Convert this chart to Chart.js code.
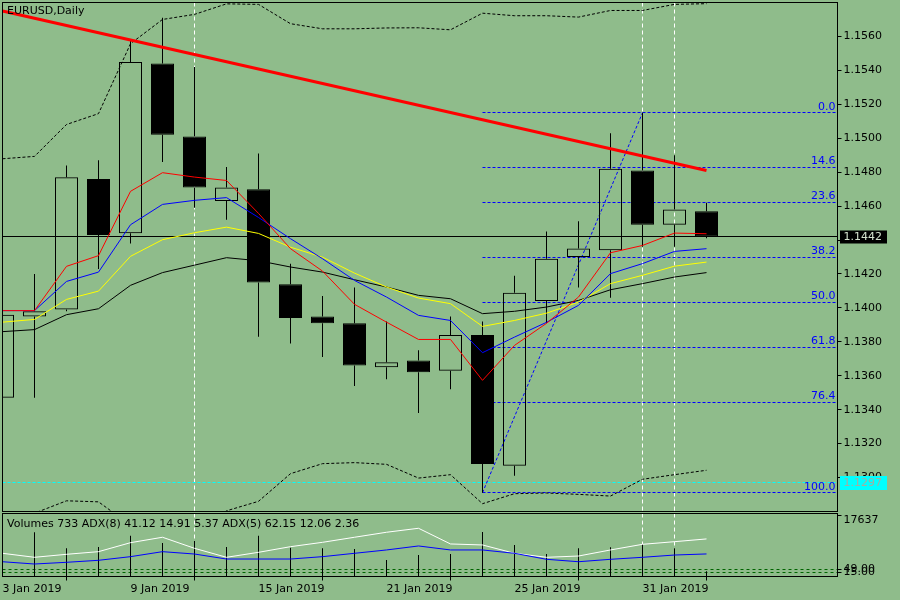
<!DOCTYPE html>
<html>
<head>
<meta charset="utf-8">
<script src="https://cdn.jsdelivr.net/npm/chart.js@4.4.0/dist/chart.umd.min.js"></script>
<style>
  html, body { margin: 0; padding: 0; background: #8FBC8B; }
  canvas { display: block; }
</style>
</head>
<body>
<canvas id="price" width="900" height="512"></canvas>
<canvas id="volume" width="900" height="88"></canvas>
<script>
// EURUSD daily bars
var dates = ["3 Jan 2019", "4 Jan 2019", "7 Jan 2019", "8 Jan 2019", "9 Jan 2019",
  "10 Jan 2019", "11 Jan 2019", "14 Jan 2019", "15 Jan 2019", "16 Jan 2019",
  "17 Jan 2019", "18 Jan 2019", "21 Jan 2019", "22 Jan 2019", "23 Jan 2019",
  "24 Jan 2019", "25 Jan 2019", "28 Jan 2019", "29 Jan 2019", "30 Jan 2019",
  "31 Jan 2019", "1 Feb 2019", "4 Feb 2019"];

var open  = [1.1347, 1.1395, 1.1399, 1.1476, 1.1444, 1.1544, 1.1501, 1.1463, 1.1470, 1.1414, 1.1395, 1.1391,
             1.1365, 1.1369, 1.1363, 1.1384, 1.1307, 1.1404, 1.1430, 1.1434, 1.1481, 1.1449, 1.1457];
var high  = [1.1400, 1.1420, 1.1484, 1.1487, 1.1558, 1.1571, 1.1542, 1.1483, 1.1491, 1.1426, 1.1407, 1.1412,
             1.1392, 1.1375, 1.1395, 1.1392, 1.1419, 1.1445, 1.1451, 1.1503, 1.1515, 1.1490, 1.1462];
var low   = [1.1333, 1.1347, 1.1398, 1.1423, 1.1438, 1.1486, 1.1459, 1.1452, 1.1383, 1.1379, 1.1371, 1.1354,
             1.1358, 1.1338, 1.1352, 1.1291, 1.1301, 1.1391, 1.1412, 1.1406, 1.1436, 1.1436, 1.1441];
var close = [1.1396, 1.1398, 1.1477, 1.1443, 1.1545, 1.1502, 1.1471, 1.1471, 1.1415, 1.1394, 1.1391, 1.1366,
             1.1368, 1.1362, 1.1384, 1.1308, 1.1409, 1.1429, 1.1435, 1.1482, 1.1449, 1.1458, 1.1442];

// moving averages
var maRed    = [1.13984, 1.13984, 1.14245, 1.14308, 1.14687, 1.14797, 1.14771, 1.14751, 1.14557, 1.14349, 1.14217, 1.14021,
                1.13916, 1.13814, 1.13814, 1.13573, 1.13779, 1.13909, 1.14064, 1.14325, 1.14368, 1.14441, 1.14437];
var maBlue   = [1.13984, 1.13984, 1.14156, 1.14211, 1.14490, 1.14610, 1.14634, 1.14650, 1.14533, 1.14408, 1.14290, 1.14162,
                1.14064, 1.13956, 1.13926, 1.13736, 1.13828, 1.13915, 1.14015, 1.14202, 1.14261, 1.14333, 1.14349];
var maYellow = [1.13916, 1.13932, 1.14050, 1.14099, 1.14304, 1.14402, 1.14443, 1.14476, 1.14439, 1.14358, 1.14299, 1.14205,
                1.14123, 1.14058, 1.14025, 1.13891, 1.13926, 1.13969, 1.14034, 1.14143, 1.14192, 1.14246, 1.14270];
var maBlack  = [1.13860, 1.13872, 1.13960, 1.13995, 1.14133, 1.14208, 1.14252, 1.14296, 1.14278, 1.14241, 1.14211, 1.14166,
                1.14123, 1.14074, 1.14054, 1.13966, 1.13980, 1.14005, 1.14044, 1.14107, 1.14143, 1.14182, 1.14208];

// bollinger bands
var bandUpper = [1.14879, 1.14893, 1.15081, 1.15145, 1.15557, 1.15700, 1.15730, 1.15792, 1.15789, 1.15675, 1.15645, 1.15645,
                 1.15650, 1.15651, 1.15639, 1.15737, 1.15722, 1.15722, 1.15714, 1.15753, 1.15753, 1.15789, 1.15793];
var bandLower = [1.1278, 1.1279, 1.12863, 1.12857, 1.1272, 1.1266, 1.1268, 1.12804, 1.12860, 1.13023, 1.13082, 1.13088,
                 1.13078, 1.12997, 1.13017, 1.12846, 1.12905, 1.12909, 1.12901, 1.12891, 1.12990, 1.13017, 1.13043];

// objects
var trendX = [0, 22];
var trendY = [1.1575, 1.1481];
var fibPct = ["0.0", "14.6", "23.6", "38.2", "50.0", "61.8", "76.4", "100.0"];
var fibLevels = [1.15150, 1.14828, 1.14622, 1.14298, 1.14033, 1.13767, 1.13443, 1.12911];
var fibStart = 15;
var fibLineX = [15, 20];
var fibLineY = [1.12911, 1.15150];
var vLines = [6, 20, 21];
var cyanLevel = 1.1297;
var priceTicks = [1.1300, 1.1320, 1.1340, 1.1360, 1.1380, 1.1400, 1.1420, 1.1440, 1.1460, 1.1480, 1.1500, 1.1520, 1.1540, 1.1560];

// lower window
var volumes = [9000, 12546, 7700, 8093, 11516, 9305, 9911, 8093, 11516, 7881, 7700, 7488,
               4156, 5670, 5973, 12637, 8699, 5973, 7700, 8003, 8911, 7700, 733];
var adx5 = [42.0, 36.4, 40.6, 44.3, 56.9, 64.5, 49.0, 36.4, 43.4, 51.3, 57.4, 64.5,
            71.5, 77.1, 55.1, 53.7, 42.0, 36.4, 38.2, 46.7, 54.6, 58.3, 62.15];
var adx8 = [30.2, 27.0, 29.4, 32.2, 37.3, 44.3, 41.0, 34.0, 34.0, 34.0, 37.3, 42.0,
            46.7, 52.3, 46.7, 46.7, 42.0, 33.6, 30.2, 33.6, 36.4, 39.6, 41.12];
var volTicks = [17637];
var adxLevels = [19.6, 15.8];
var adxLevelLabels = ["49.00", "15.00"];
var dateTicks = [0, 4, 8, 12, 16, 20];
var lowerText = "Volumes 733 ADX(8) 41.12 14.91 5.37 ADX(5) 62.15 12.06 2.36";

var bg = "#8FBC8B";
var font = { family: "DejaVu Sans", size: 11 };
var fontStr = '11px "DejaVu Sans"';
var xMin = 0, xMax = 26.09375;

function pts(arr) {
  return arr.map(function (v, i) { return { x: i, y: v }; });
}
function lineSet(data, color, order, dash, width) {
  return {
    type: 'line', data: data, borderColor: color, borderWidth: width || 1,
    borderDash: dash || [], pointRadius: 0, tension: 0, order: order
  };
}
// no extra room for the end labels, the frame is fixed
function fixV(s) { s.width = 62.5; s.paddingTop = 0; s.paddingBottom = 0; }
function fixH(s) { s.height = 23.5; s.paddingLeft = 0; s.paddingRight = 0; }

var bodies = open.map(function (o, i) {
  return { x: i, y: [Math.min(o, close[i]), Math.max(o, close[i])] };
});
var upperWicks = open.map(function (o, i) {
  return { x: i, y: [Math.max(o, close[i]), high[i]] };
});
var lowerWicks = open.map(function (o, i) {
  return { x: i, y: [low[i], Math.min(o, close[i])] };
});
var trendPts = trendX.map(function (v, i) { return { x: v, y: trendY[i] }; });

var mainPlugin = {
  id: 'mainPlugin',
  beforeDatasetsDraw: function (chart) {
    var ctx = chart.ctx, a = chart.chartArea, x = chart.scales.x, y = chart.scales.y;
    ctx.save();
    ctx.beginPath();
    ctx.rect(a.left, a.top, a.right - a.left, a.bottom - a.top);
    ctx.clip();
    ctx.lineWidth = 1;

    ctx.strokeStyle = '#FFFFFF';
    ctx.setLineDash([4, 3]);
    vLines.forEach(function (i) {
      var px = x.getPixelForValue(i);
      ctx.beginPath(); ctx.moveTo(px, a.top); ctx.lineTo(px, a.bottom); ctx.stroke();
    });

    ctx.strokeStyle = '#00FFFF';
    ctx.setLineDash([3, 2]);
    var cy = Math.round(y.getPixelForValue(cyanLevel) - 0.5) + 0.5;
    ctx.beginPath(); ctx.moveTo(a.left, cy); ctx.lineTo(a.right, cy); ctx.stroke();

    ctx.strokeStyle = '#0000FF';
    var fx = x.getPixelForValue(fibStart);
    fibLevels.forEach(function (lv) {
      var py = Math.round(y.getPixelForValue(lv) - 0.5) + 0.5;
      ctx.beginPath(); ctx.moveTo(fx, py); ctx.lineTo(a.right, py); ctx.stroke();
    });
    ctx.beginPath();
    ctx.moveTo(x.getPixelForValue(fibLineX[0]), y.getPixelForValue(fibLineY[0]));
    ctx.lineTo(x.getPixelForValue(fibLineX[1]), y.getPixelForValue(fibLineY[1]));
    ctx.stroke();

    ctx.setLineDash([]);
    ctx.strokeStyle = '#000000';
    var by = Math.round(y.getPixelForValue(close[close.length - 1]) - 0.5) + 0.5;
    ctx.beginPath(); ctx.moveTo(a.left, by); ctx.lineTo(a.right, by); ctx.stroke();
    ctx.restore();
  },
  afterDraw: function (chart) {
    var ctx = chart.ctx, a = chart.chartArea, y = chart.scales.y;
    ctx.save();
    ctx.lineWidth = 1;
    ctx.strokeStyle = '#000000';
    ctx.strokeRect(a.left, a.top, a.right - a.left, a.bottom - a.top);

    ctx.font = fontStr;
    ctx.fillStyle = '#000000';
    ctx.textBaseline = 'middle';
    ctx.textAlign = 'left';
    ctx.fillText('EURUSD,Daily', 7, 11.5);

    ctx.fillStyle = '#0000FF';
    ctx.textAlign = 'right';
    ctx.textBaseline = 'alphabetic';
    fibLevels.forEach(function (lv, i) {
      ctx.fillText(fibPct[i], a.right - 2, y.getPixelForValue(lv) - 3);
    });

    ctx.textAlign = 'left';
    ctx.textBaseline = 'middle';
    var last = close[close.length - 1];
    var py = y.getPixelForValue(last);
    ctx.fillStyle = '#000000';
    ctx.fillRect(840, Math.round(py) - 6.5, 47, 13);
    ctx.fillStyle = '#D4E2CE';
    ctx.fillText(last.toFixed(4), 843.5, py + 0.5);

    var cy = y.getPixelForValue(cyanLevel);
    ctx.fillStyle = '#00FFFF';
    ctx.fillRect(840, Math.round(cy) - 7, 47, 14);
    ctx.fillStyle = '#A4AEA0';
    ctx.fillText(cyanLevel.toFixed(4), 843.5, cy + 0.5);
    ctx.restore();
  }
};

new Chart(document.getElementById('price'), {
  type: 'bar',
  data: {
    datasets: [
      lineSet(trendPts, '#FF0000', 0, [], 3),
      lineSet(pts(maRed), '#FF0000', 1),
      lineSet(pts(maBlue), '#0000FF', 2),
      lineSet(pts(maYellow), '#FFFF00', 3),
      lineSet(pts(maBlack), '#000000', 4),
      lineSet(pts(bandUpper), '#000000', 1, [3, 2]),
      lineSet(pts(bandLower), '#000000', 1, [3, 2]),
      {
        type: 'bar', data: bodies, grouped: false, barThickness: 23, order: 6,
        backgroundColor: close.map(function (c, i) { return c < open[i] ? '#000000' : 'rgba(0,0,0,0)'; }),
        borderColor: '#000000', borderWidth: 1, borderSkipped: false, inflateAmount: 0
      },
      {
        type: 'bar', data: upperWicks, grouped: false, barThickness: 1, order: 7,
        backgroundColor: '#000000', borderWidth: 0, inflateAmount: 0
      },
      {
        type: 'bar', data: lowerWicks, grouped: false, barThickness: 1, order: 7,
        backgroundColor: '#000000', borderWidth: 0, inflateAmount: 0
      }
    ]
  },
  options: {
    responsive: false,
    animation: false,
    devicePixelRatio: 1,
    layout: { padding: { left: 2.5, top: 2.5, right: 0, bottom: 0.5 } },
    plugins: { legend: { display: false }, tooltip: { enabled: false } },
    scales: {
      x: { type: 'linear', display: false, min: xMin, max: xMax, offset: false },
      y: {
        type: 'linear', position: 'right', min: 1.1280, max: 1.1580,
        afterFit: fixV,
        afterBuildTicks: function (s) { s.ticks = priceTicks.map(function (v) { return { value: v }; }); },
        ticks: {
          color: '#000000', font: font, padding: 2,
          callback: function (v) { return Number(v).toFixed(4); }
        },
        grid: { drawOnChartArea: false, drawTicks: true, tickLength: 4, color: '#000000' },
        border: { display: false }
      }
    }
  },
  plugins: [mainPlugin]
});

var lowerPlugin = {
  id: 'lowerPlugin',
  beforeDatasetsDraw: function (chart) {
    var ctx = chart.ctx, a = chart.chartArea, x = chart.scales.x, ya = chart.scales.yAdx;
    ctx.save();
    ctx.lineWidth = 1;
    ctx.strokeStyle = '#FFFFFF';
    ctx.setLineDash([4, 3]);
    vLines.forEach(function (i) {
      var px = x.getPixelForValue(i);
      ctx.beginPath(); ctx.moveTo(px, a.top); ctx.lineTo(px, a.bottom); ctx.stroke();
    });
    ctx.strokeStyle = '#006400';
    ctx.setLineDash([3, 3]);
    adxLevels.forEach(function (lv) {
      var py = Math.round(ya.getPixelForValue(lv) - 0.5) + 0.5;
      ctx.beginPath(); ctx.moveTo(a.left, py); ctx.lineTo(a.right, py); ctx.stroke();
    });
    ctx.restore();
  },
  afterDraw: function (chart) {
    var ctx = chart.ctx, a = chart.chartArea, ya = chart.scales.yAdx, yv = chart.scales.yVol;
    ctx.save();
    ctx.lineWidth = 1;
    ctx.strokeStyle = '#000000';
    ctx.strokeRect(a.left, a.top, a.right - a.left, a.bottom - a.top);
    ctx.font = fontStr;
    ctx.fillStyle = '#000000';
    ctx.textBaseline = 'middle';
    ctx.textAlign = 'left';
    ctx.fillText(lowerText, 7, 12.5);
    adxLevels.forEach(function (lv, i) {
      var py = Math.round(ya.getPixelForValue(lv) - 0.5) + 0.5;
      ctx.beginPath(); ctx.moveTo(a.right, py); ctx.lineTo(a.right + 4, py); ctx.stroke();
      ctx.fillText(adxLevelLabels[i], a.right + 6, py);
    });
    // volume scale label hangs below its tick
    ctx.textBaseline = 'top';
    volTicks.forEach(function (v) {
      ctx.fillText(String(v), a.right + 6, yv.getPixelForValue(v) - 0.5);
    });
    ctx.restore();
  }
};

new Chart(document.getElementById('volume'), {
  type: 'bar',
  data: {
    datasets: [
      {
        type: 'bar', data: pts(volumes), yAxisID: 'yVol', grouped: false, barThickness: 1,
        base: -842, backgroundColor: '#000000', borderWidth: 0, inflateAmount: 0, order: 3
      },
      {
        type: 'line', data: pts(adx5), yAxisID: 'yAdx', borderColor: '#FFFFFF', borderWidth: 1,
        pointRadius: 0, tension: 0, order: 2
      },
      {
        type: 'line', data: pts(adx8), yAxisID: 'yAdx', borderColor: '#0000FF', borderWidth: 1,
        pointRadius: 0, tension: 0, order: 1
      }
    ]
  },
  options: {
    responsive: false,
    animation: false,
    devicePixelRatio: 1,
    layout: { padding: { left: 2.5, top: 1.5, right: 0, bottom: 0 } },
    plugins: { legend: { display: false }, tooltip: { enabled: false } },
    scales: {
      x: {
        type: 'linear', position: 'bottom', min: xMin, max: xMax, offset: false,
        afterFit: fixH,
        afterBuildTicks: function (s) { s.ticks = dateTicks.map(function (v) { return { value: v }; }); },
        ticks: {
          autoSkip: false, maxRotation: 0, minRotation: 0, align: 'start', padding: 2,
          color: '#000000', font: font,
          callback: function (v) { return dates[v]; }
        },
        grid: { drawOnChartArea: false, drawTicks: true, tickLength: 4, color: '#000000' },
        border: { display: false }
      },
      yVol: {
        type: 'linear', position: 'right', min: -842, max: 18243,
        afterFit: fixV,
        afterBuildTicks: function (s) { s.ticks = volTicks.map(function (v) { return { value: v }; }); },
        ticks: { color: '#000000', font: font, padding: 2, callback: function () { return ''; } },
        grid: { drawOnChartArea: false, drawTicks: true, tickLength: 4, color: '#000000' },
        border: { display: false }
      },
      yAdx: { type: 'linear', display: false, min: 9.5, max: 97.8 }
    }
  },
  plugins: [lowerPlugin]
});
</script>
</body>
</html>
